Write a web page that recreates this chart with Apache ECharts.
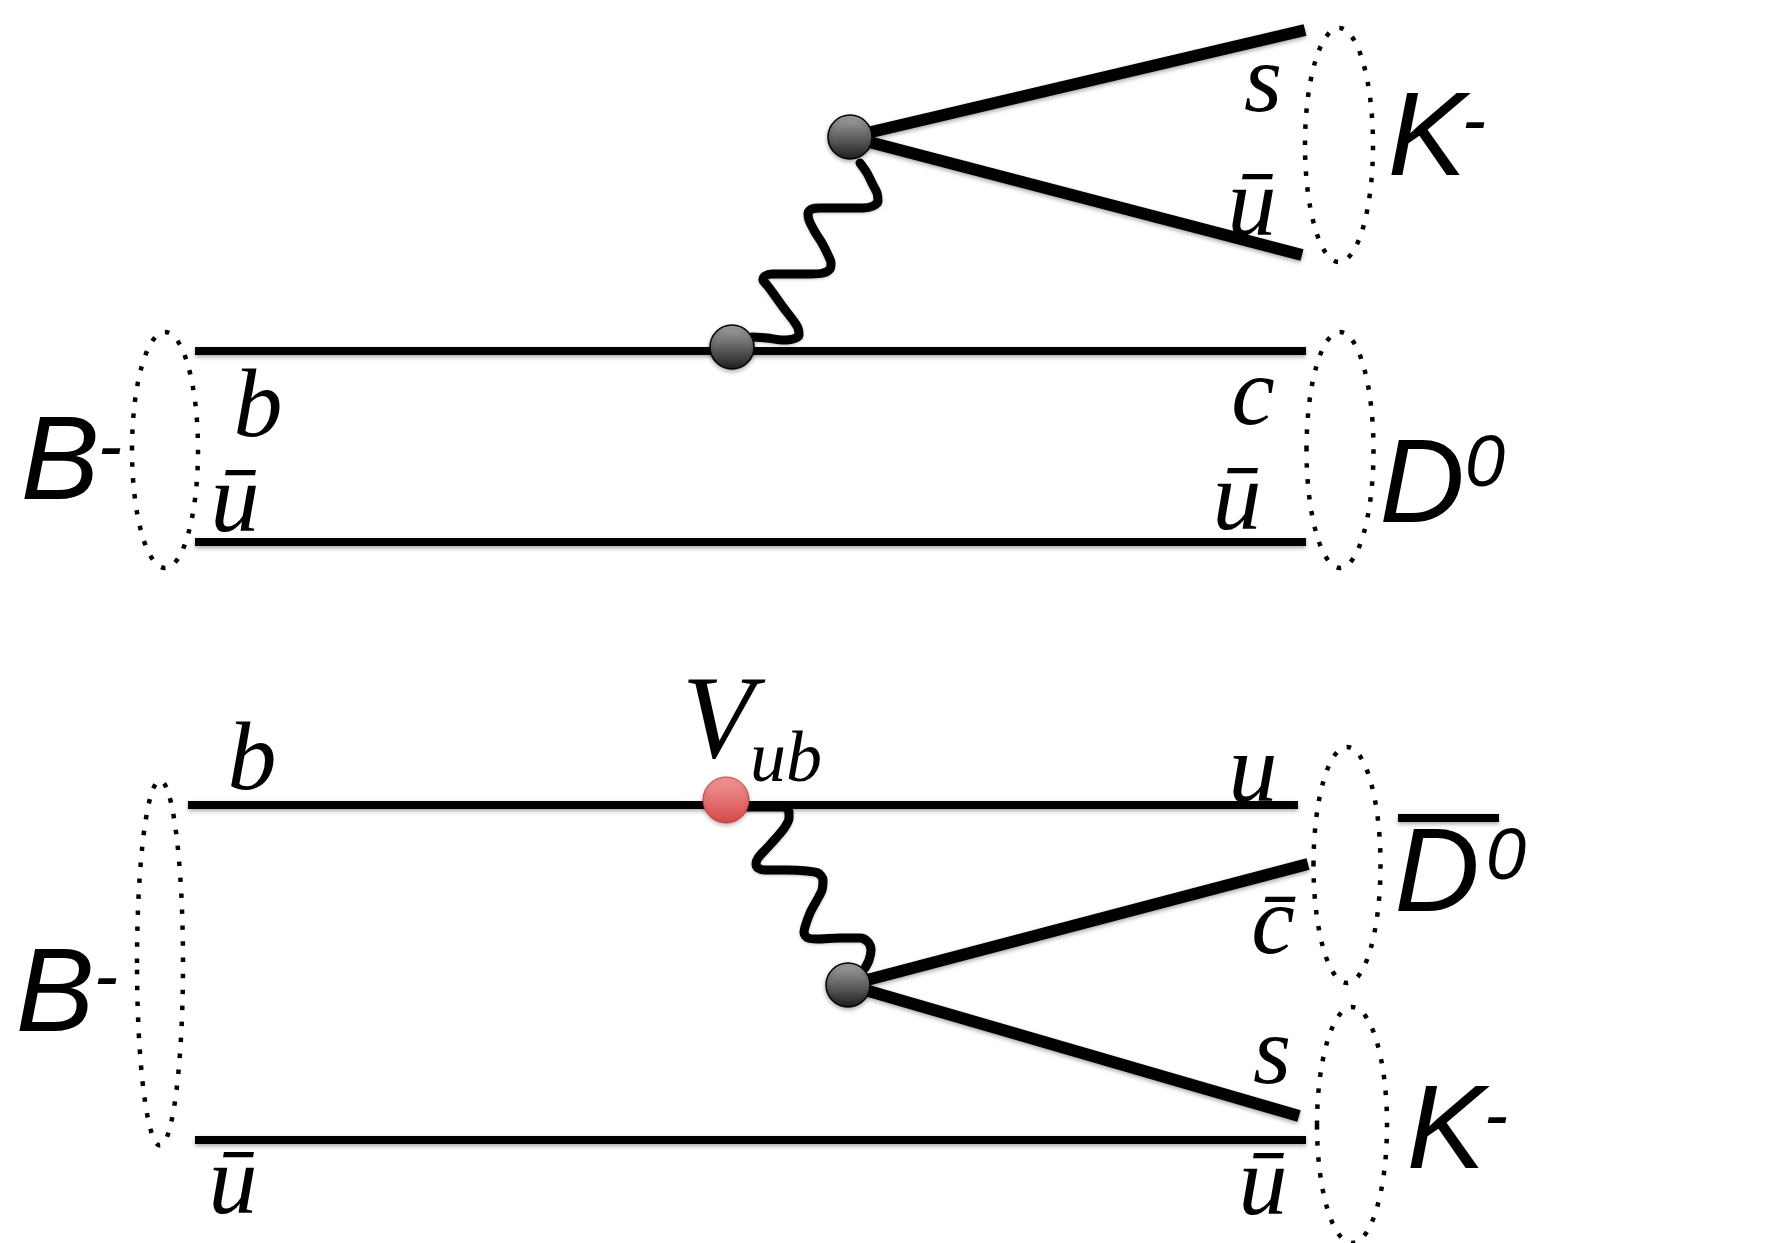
<!DOCTYPE html>
<html><head><meta charset="utf-8">
<script src="https://cdn.jsdelivr.net/npm/echarts@6/dist/echarts.min.js"></script>
<style>html,body{margin:0;padding:0;background:#fff}#c{width:1769px;height:1243px}</style>
</head><body><div id="c"></div>
<script>
// ---- diagram data (pixel-like coordinates on a 1769 x 1243 value grid) ----
// straight quark lines (start point, end point)
const horizontalLines = [
  [[195, 351], [1306, 351]],
  [[195, 542], [1306, 542]],
  [[188, 805], [1298, 805]],
  [[195, 1140], [1306, 1140]]
];
const outgoingLines = [
  [[850, 137], [1305, 30]],
  [[850, 137], [1302, 255]],
  [[848, 985], [1308, 864]],
  [[848, 985], [1299, 1116]]
];
// W boson wavy lines
const waveTop = [[752, 337], [767, 338], [783, 340], [793, 339], [799, 335], [798, 328], [793, 320],
  [783, 307], [773, 293], [767, 285], [763, 280], [765, 276], [772, 274], [790, 274], [810, 274],
  [823, 273], [830, 269], [831, 263], [828, 255], [822, 243], [815, 232], [809, 220], [808, 213],
  [812, 209], [820, 208], [843, 208], [863, 208], [873, 206], [878, 201], [877, 193], [873, 185],
  [867, 173], [860, 163]];
const waveBottom = [[747, 807], [767, 807], [783, 807], [789, 812], [789, 818], [785, 827], [777, 837],
  [767, 848], [758, 858], [756, 864], [758, 868], [765, 870], [787, 870], [807, 871], [818, 873],
  [823, 880], [822, 890], [817, 900], [810, 913], [805, 927], [804, 933], [808, 938], [817, 939],
  [840, 938], [860, 938], [868, 942], [871, 950], [869, 960], [865, 968]];
// vertices
const vertices = [[850, 137], [732, 347], [848, 985]];
const ckmVertex = [[726, 800]];
// hadron ellipses: centre x, centre y, width, height
const hadronEllipses = [
  [1339, 145, 68, 234],
  [165, 450, 66, 236],
  [1340, 450, 67, 236],
  [160, 963, 46, 365],
  [1347, 865, 67, 236],
  [1352, 1125, 70, 236]
];
// quark labels
const quarkText = ['s', 'ū', 'b', 'ū', 'c', 'ū', 'b', 'u', 'c̄', 's', 'ū', 'ū'];
const quarkXY = [[1263, 85], [1252, 209], [258, 410], [235, 505], [1253, 398], [1237, 503],
                 [252, 763], [1253, 775], [1273, 927], [1272, 1057], [233, 1187], [1263, 1188]];
// hadron labels
const hadronText = ['K', 'D', 'B', 'B', 'D', 'K'];
const hadronXY = [[1427, 142], [1422, 489], [60, 466], [55, 998], [1437, 878], [1446, 1135]];
const chargeText = ['-', '0', '-', '-', '0', '-'];
const chargeXY = [[1474, 124], [1485, 466], [110, 450], [106, 980], [1506, 859], [1496, 1119]];
const antiBar = [[1398, 818], [1499, 818]];
// CKM label
const ckmText = ['V', 'ub'];
const ckmXY = [[718, 726], [786, 762]];

// ---- styles ----
const shadow = {shadowColor: 'rgba(0,0,0,0.35)', shadowBlur: 4, shadowOffsetY: 2};
const series = [];
horizontalLines.forEach(function (seg) {
  series.push({type: 'line', data: seg, symbol: 'none', z: 2, silent: true,
    lineStyle: Object.assign({color: '#000', width: 8, cap: 'butt'}, shadow)});
});
outgoingLines.forEach(function (seg) {
  series.push({type: 'line', data: seg, symbol: 'none', z: 2, silent: true,
    lineStyle: Object.assign({color: '#000', width: 12, cap: 'butt'}, shadow)});
});
[waveTop, waveBottom].forEach(function (w) {
  series.push({type: 'line', data: w, symbol: 'none', smooth: 0.3, z: 2, silent: true,
    lineStyle: {color: '#000', width: 9, cap: 'round', join: 'round',
      shadowColor: 'rgba(0,0,0,0.25)', shadowBlur: 3, shadowOffsetY: 1}});
});
series.push({type: 'line', data: antiBar, symbol: 'none', z: 2, silent: true,
  lineStyle: Object.assign({color: '#000', width: 8}, shadow)});

series.push({type: 'scatter', data: vertices, symbol: 'circle', symbolSize: 44, z: 5, silent: true,
  itemStyle: {opacity: 1, color: new echarts.graphic.LinearGradient(0, 0, 0, 1, [
    {offset: 0, color: '#a9a9a9'}, {offset: 1, color: '#1c1c1c'}]),
    borderColor: '#000', borderWidth: 1.5, shadowColor: 'rgba(0,0,0,0.3)', shadowBlur: 4, shadowOffsetY: 2}});
series.push({type: 'scatter', data: ckmVertex, symbol: 'circle', symbolSize: 46, z: 5, silent: true,
  itemStyle: {opacity: 1, color: new echarts.graphic.LinearGradient(0, 0, 0, 1, [
    {offset: 0, color: '#f39a9a'}, {offset: 1, color: '#d54848'}]),
    borderColor: '#c04040', borderWidth: 1, shadowColor: 'rgba(0,0,0,0.25)', shadowBlur: 4, shadowOffsetY: 2}});

series.push({type: 'custom', data: hadronEllipses, z: 3, silent: true, clip: false,
  renderItem: function (params, api) {
    const c = api.coord([api.value(0), api.value(1)]);
    const s = api.size([api.value(2), api.value(3)]);
    return {type: 'ellipse', shape: {cx: c[0], cy: c[1], rx: s[0] / 2, ry: s[1] / 2},
      style: {fill: 'none', stroke: '#000', lineWidth: 4.5, lineDash: [4.5, 11.5], lineCap: 'butt'}};
  }});

function textSeries(texts, xy, font, extra) {
  return {type: 'scatter', symbolSize: 1, z: 6, silent: true, clip: false,
    itemStyle: {opacity: 1, color: 'rgba(0,0,0,0)'},
    data: texts.map(function (t, i) {
      const item = {name: t, value: xy[i]};
      if (extra) { const o = extra(t); if (o) item.label = o; }
      return item;
    }),
    label: Object.assign({show: true, position: 'inside', color: '#000', opacity: 1, formatter: '{b}'}, font)};
}
const serifI = {fontFamily: 'Liberation Serif', fontStyle: 'italic'};
const sansI = {fontFamily: 'Liberation Sans', fontStyle: 'italic'};
series.push(textSeries(quarkText, quarkXY, Object.assign({fontSize: 98}, serifI)));
series.push(textSeries(hadronText, hadronXY, Object.assign({fontSize: 118}, sansI)));
series.push(textSeries(chargeText, chargeXY, Object.assign({fontSize: 72}, sansI)));
series.push(textSeries(ckmText, ckmXY, serifI, function (t) {
  return {fontSize: t === 'V' ? 118 : 72};
}));

const chart = echarts.init(document.getElementById('c'), null, {renderer: 'canvas'});
chart.setOption({
  animation: false,
  backgroundColor: '#fff',
  grid: {left: 0, right: 0, top: 0, bottom: 0, containLabel: false},
  xAxis: {type: 'value', min: 0, max: 1769, show: false},
  yAxis: {type: 'value', min: 0, max: 1243, inverse: true, show: false},
  tooltip: {show: false},
  series: series
});
</script></body></html>
